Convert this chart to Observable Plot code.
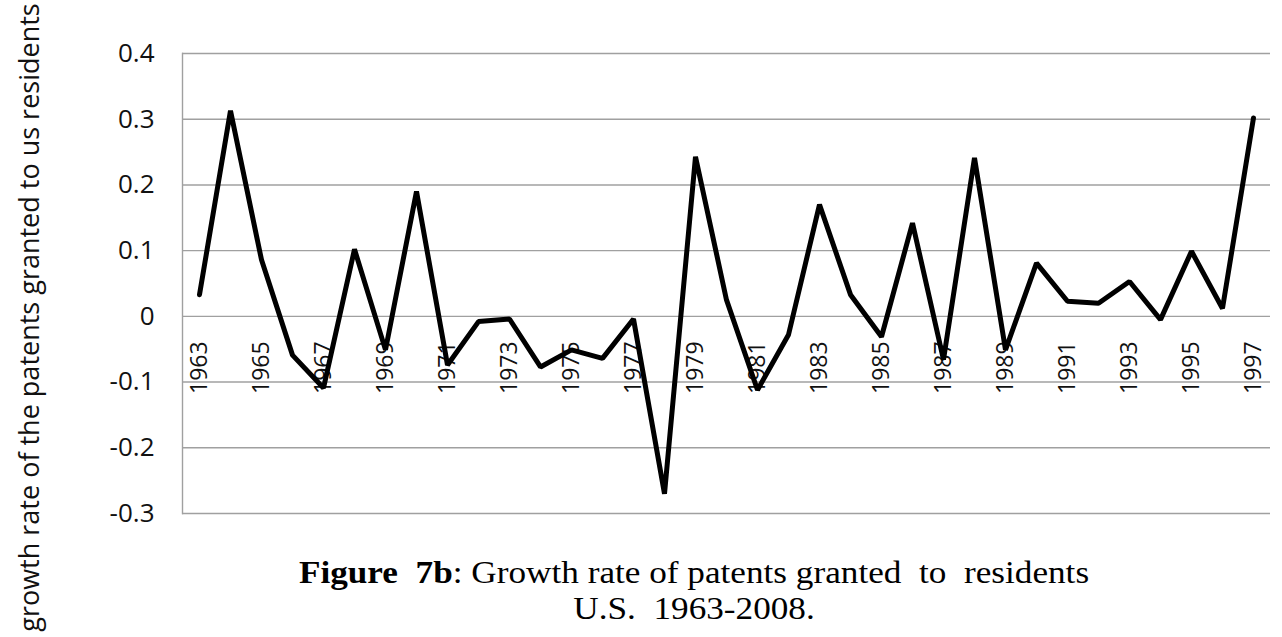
<!DOCTYPE html>
<html>
<head>
<meta charset="utf-8">
<script src="https://cdn.jsdelivr.net/npm/d3@7"></script>
<script src="https://cdn.jsdelivr.net/npm/@observablehq/plot@0.6"></script>
<style>
  html, body { margin: 0; padding: 0; background: white; }
  #wrap { position: relative; width: 1282px; height: 637px; overflow: hidden; }
  #chart { position: absolute; top: 0; left: 0; }
  #caption {
    position: absolute; top: 554px; left: 194px; width: 1000px;
    text-align: center; font-family: "Liberation Serif", "Times New Roman", serif;
    font-size: 32px; line-height: 36px; color: #000; white-space: pre;
    transform: scaleX(1.1); transform-origin: 500px 0;
  }
</style>
</head>
<body>
<div id="wrap">
  <div id="chart"></div>
  <div id="caption"><b>Figure  7b</b>: Growth rate of patents granted  to  residents
U.S.  1963-2008.</div>
</div>
<script>
const years = [1963,1964,1965,1966,1967,1968,1969,1970,1971,1972,1973,1974,1975,1976,1977,1978,1979,1980,1981,1982,1983,1984,1985,1986,1987,1988,1989,1990,1991,1992,1993,1994,1995,1996,1997];
const growth = [0.033,0.313,0.086,-0.059,-0.109,0.102,-0.051,0.190,-0.074,-0.008,-0.004,-0.077,-0.051,-0.064,-0.004,-0.270,0.243,0.025,-0.112,-0.028,0.170,0.033,-0.031,0.142,-0.066,0.241,-0.051,0.081,0.023,0.020,0.053,-0.005,0.099,0.012,0.302];
const yTicks = [-0.3,-0.2,-0.1,0,0.1,0.2,0.3,0.4];
const xTickLabels = [1963,1965,1967,1969,1971,1973,1975,1977,1979,1981,1983,1985,1987,1989,1991,1993,1995,1997];
const yTitle = "growth rate of the patents granted to us residents";

const data = years.map((y, i) => ({year: y, value: growth[i]}));

const chart = Plot.plot({
  width: 1282,
  height: 637,
  marginLeft: 182,
  marginRight: 12,
  marginTop: 53,
  marginBottom: 124,
  style: {fontFamily: "Open Sans", background: "transparent", color: "#111"},
  x: {type: "point", domain: years, axis: null},
  y: {domain: [-0.3, 0.4], axis: null},
  marks: [
    Plot.ruleY(yTicks, {stroke: "#a0a0a0", strokeWidth: 1.4}),
    Plot.frame({anchor: "left", stroke: "#a0a0a0", strokeWidth: 1.4}),
    Plot.axisY({ticks: yTicks, tickSize: 0, tickPadding: 28, fontSize: 26, label: null,
      tickFormat: d => String(Math.round(d * 10) / 10)}),
    Plot.text(xTickLabels, {x: d => d, y: 0, text: d => String(d), rotate: -90, textAnchor: "end", dy: 25, fontSize: 23}),
    Plot.line(data, {x: "year", y: "value", stroke: "black", strokeWidth: 5, strokeLinejoin: "miter"}),
    Plot.text([yTitle], {text: d => d, frameAnchor: "left", textAnchor: "middle", rotate: -90, dx: -152, dy: 34, fontSize: 27})
  ]
});
document.getElementById("chart").appendChild(chart);
</script>
</body>
</html>
